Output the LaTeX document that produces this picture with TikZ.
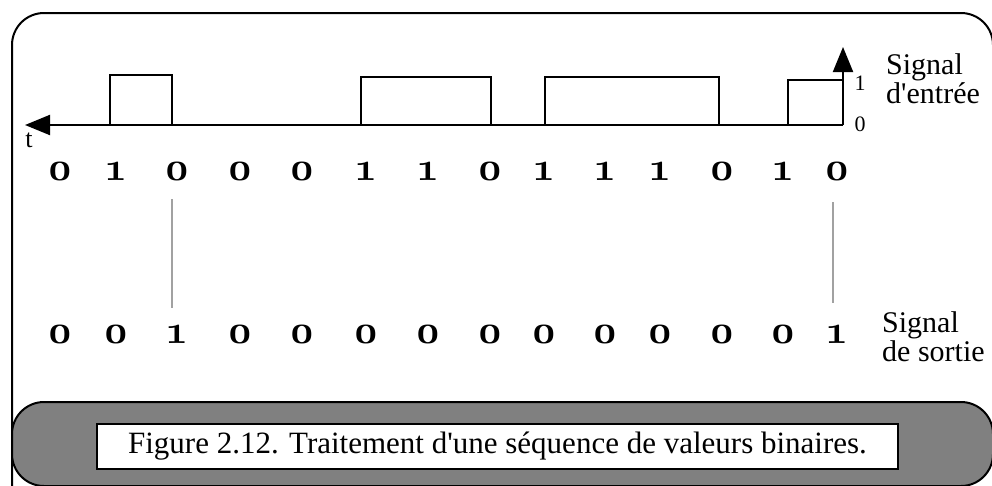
\documentclass[tikz,border=0pt]{standalone}
\usepackage{fontspec}
\setmainfont{Liberation Serif}
\usetikzlibrary{positioning,arrows.meta,calc}
\newfontfamily\digfont{Latin Modern Roman}
\def \bit#1{{\digfont\bfseries\oldstylenums{#1}}}
\def \q {\textquotesingle}

\begin{document}
\begin{tikzpicture}[x=1pt, y=-1pt, line join=miter,
frame/.style={line width=2pt, rounded corners=32pt},
wave/.style={line width=2pt},
axis/.style={line width=2pt, -{Triangle[length=25pt,width=20pt]}},
digit/.style={font=\fontsize{40}{40}\selectfont, anchor=base, inner sep=0pt},
sigtext/.style={font=\fontsize{30}{29}\selectfont, align=left, anchor=west, inner sep=0pt},
tick/.style={font=\fontsize{22}{22}\selectfont, inner sep=0pt},
marker/.style={draw=black!37, line width=1.2pt},
caption/.style={draw, fill=white, line width=2pt, minimum width=801pt, minimum height=45pt, font=\fontsize{31}{31}\selectfont, inner sep=0pt}
]
\useasboundingbox (0,0) rectangle (992,485);
\begin{scope}
\clip (0,0) rectangle (992,485);
\draw[frame] (12,520) -- (12,13) -- (993,13) -- (993,520);
\draw[frame, fill=black!50] (12,402) rectangle (993,486);
\end{scope}

% axes
\coordinate (o) at (843,125);
\coordinate (tend) at (25,125);
\coordinate (yend) at (843,47);
\draw[axis] (o) -- (tend);
\draw[axis] (o) -- (yend);
\node (t) [font=\fontsize{26}{26}\selectfont, inner sep=0pt, anchor=base] at (29,147) {t};
\node (one) [tick, anchor=base] at (860,90) {1};
\node (zero) [tick, anchor=base] at (860,131) {0};

% input signal
\draw[wave] (110,125) |- (172,75) -- (172,125);
\draw[wave] (361,125) |- (491,77) -- (491,125);
\draw[wave] (545,125) |- (719,77) -- (719,125);
\draw[wave] (788,125) |- (843,80);

\node (sin) [sigtext] at (886,79) {Signal\\d\q entrée};
\node (sout) [sigtext] at (882,337) {Signal\\de sortie};

% bit values
\foreach \px/\a/\b [count=\i] in {60/0/0, 116/1/0, 177/0/1, 240/0/0, 302/0/0, 366/1/0, 428/1/0,
  490/0/0, 544/1/0, 605/1/0, 660/1/0, 722/0/0, 783/1/0, 837/0/1}{
  \node (in\i) [digit] at (\px,180) {\bit{\a}};
  \node (out\i) [digit] at (\px,343) {\bit{\b}};
}

\draw[marker] (172,199) -- (172,308);
\draw[marker] (833,202) -- (833,303);

\node (cap) [caption] at (497.5,446.5) {Figure 2.12. Traitement d\q une séquence de valeurs binaires.};
\end{tikzpicture}
\end{document}
